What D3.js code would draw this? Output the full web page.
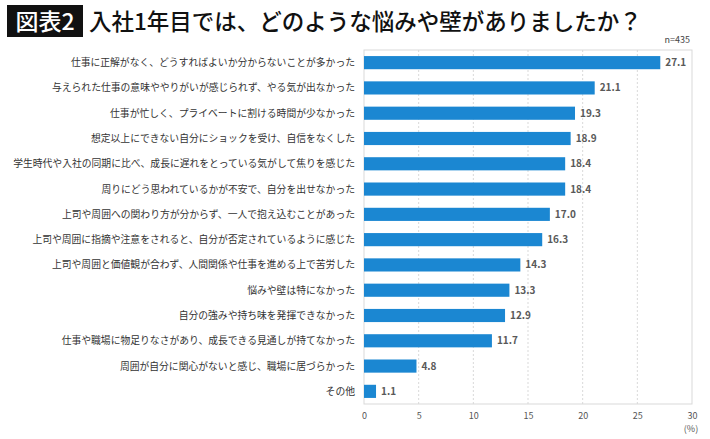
<!DOCTYPE html>
<html><head><meta charset="utf-8">
<script src="https://cdn.jsdelivr.net/npm/d3@7"></script>
<style>body{margin:0;background:#fff;}svg{display:block;}</style>
</head><body>
<script>
const categories = [
  "仕事に正解がなく、どうすればよいか分からないことが多かった",
  "与えられた仕事の意味ややりがいが感じられず、やる気が出なかった",
  "仕事が忙しく、プライベートに割ける時間が少なかった",
  "想定以上にできない自分にショックを受け、自信をなくした",
  "学生時代や入社の同期に比べ、成長に遅れをとっている気がして焦りを感じた",
  "周りにどう思われているかが不安で、自分を出せなかった",
  "上司や周囲への関わり方が分からず、一人で抱え込むことがあった",
  "上司や周囲に指摘や注意をされると、自分が否定されているように感じた",
  "上司や周囲と価値観が合わず、人間関係や仕事を進める上で苦労した",
  "悩みや壁は特になかった",
  "自分の強みや持ち味を発揮できなかった",
  "仕事や職場に物足りなさがあり、成長できる見通しが持てなかった",
  "周囲が自分に関心がないと感じ、職場に居づらかった",
  "その他"
];
const values = [27.1, 21.1, 19.3, 18.9, 18.4, 18.4, 17.0, 16.3, 14.3, 13.3, 12.9, 11.7, 4.8, 1.1];
const tickValues = [0, 5, 10, 15, 20, 25, 30];
const titleBadge = "図表2";
const titleText = "入社1年目では、どのような悩みや壁がありましたか？";
const noteText = "n=435";
const unitText = "(%)";

const W = 710, H = 439;
const font = "'Noto Sans CJK JP','Noto Sans',sans-serif";
const svg = d3.select("body").append("svg").attr("width", W).attr("height", H);

// title
svg.append("rect").attr("x", 7).attr("y", 5).attr("width", 76).attr("height", 32).attr("fill", "#111");
svg.append("text").attr("x", 45).attr("y", 30).attr("text-anchor", "middle")
  .attr("font-family", font).attr("font-size", 23).attr("font-weight", 500).attr("fill", "#fff").text(titleBadge);
svg.append("text").attr("x", 89).attr("y", 30)
  .attr("font-family", font).attr("font-size", 22.5).attr("font-weight", 500).attr("fill", "#111").text(titleText);
svg.append("text").attr("x", 690).attr("y", 43).attr("text-anchor", "end")
  .attr("font-family", font).attr("font-size", 9).attr("fill", "#444").text(noteText);

const x0 = 364, x1 = 692, y0 = 50, y1 = 404;
const x = d3.scaleLinear().domain([0, 30]).range([x0, x1]);
const y = d3.scaleBand().domain(categories).range([y0, y1]).paddingInner(0.48).paddingOuter(0.24);

// frame
svg.append("rect").attr("x", x0).attr("y", y0).attr("width", x1 - x0).attr("height", y1 - y0)
  .attr("fill", "none").attr("stroke", "#d9d9d9").attr("stroke-width", 1);

// gridlines
svg.append("g").selectAll("line").data(tickValues.filter(d => d > 0 && d < 30)).join("line")
  .attr("x1", d => x(d)).attr("x2", d => x(d)).attr("y1", y0).attr("y2", y1)
  .attr("stroke", "#d9d9d9").attr("stroke-dasharray", "2,2");

// x axis
const xAxis = svg.append("g").attr("transform", `translate(0,${y1})`)
  .call(d3.axisBottom(x).tickValues(tickValues).tickSize(0).tickPadding(9));
xAxis.select(".domain").remove();
xAxis.selectAll("text").attr("font-family", font).attr("font-size", 9).attr("fill", "#555");
svg.append("text").attr("x", 691).attr("y", 432).attr("text-anchor", "middle")
  .attr("font-family", font).attr("font-size", 9).attr("fill", "#555").text(unitText);

// bars
svg.append("g").selectAll("rect").data(values).join("rect")
  .attr("x", x(0)).attr("y", (d, i) => y(categories[i]))
  .attr("width", d => x(d) - x(0)).attr("height", y.bandwidth())
  .attr("fill", "#1b87d2");

// value labels
svg.append("g").selectAll("text").data(values).join("text")
  .attr("x", d => x(d) + 5).attr("y", (d, i) => y(categories[i]) + y.bandwidth() / 2)
  .attr("dy", "0.35em").attr("font-family", font).attr("font-size", 10).attr("font-weight", 700)
  .attr("fill", "#595959").text(d => d.toFixed(1));

// category labels
svg.append("g").selectAll("text").data(categories).join("text")
  .attr("x", 355).attr("y", d => y(d) + y.bandwidth() / 2)
  .attr("dy", "0.35em").attr("text-anchor", "end")
  .attr("font-family", font).attr("font-size", 9.8).attr("fill", "#333").text(d => d);
</script>
</body></html>
